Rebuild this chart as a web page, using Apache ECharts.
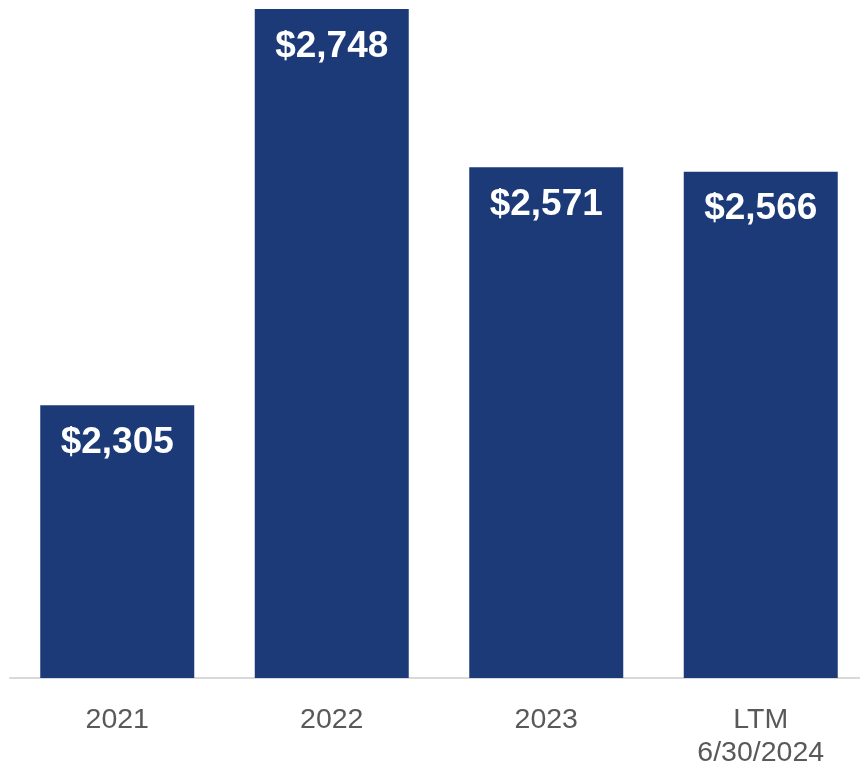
<!DOCTYPE html>
<html>
<head>
<meta charset="utf-8">
<script src="https://cdn.jsdelivr.net/npm/echarts@6/dist/echarts.min.js"></script>
<style>
  html, body { margin: 0; padding: 0; background: #fff; overflow: hidden; }
  /* the plot runs slightly past the right edge of the page */
  #chart { width: 868px; height: 770px; }
</style>
</head>
<body>
<div id="chart"></div>
<script>
const categories = ['2021', '2022', '2023', 'LTM\n6/30/2024'];
const values = [2305, 2748, 2571, 2566];

const chart = echarts.init(document.getElementById('chart'));
chart.setOption({
  animation: false,
  grid: { left: 10, top: 9, right: 0, bottom: 91, containLabel: false },
  xAxis: {
    type: 'category',
    data: categories,
    axisLine: { show: true, lineStyle: { color: '#d9d9d9', width: 2 } },
    axisTick: { show: false },
    axisLabel: {
      color: '#595959',
      fontFamily: 'Liberation Sans, Arial, sans-serif',
      fontSize: 28.5,
      lineHeight: 33,
      margin: 26
    }
  },
  yAxis: {
    type: 'value',
    min: 2000,
    max: 2748,
    show: false,
    splitLine: { show: false }
  },
  series: [{
    type: 'bar',
    data: values,
    barWidth: 154,
    itemStyle: { color: '#1c3a77' },
    label: {
      show: true,
      position: 'insideTop',
      distance: 19,
      color: '#ffffff',
      fontFamily: 'Liberation Sans, Arial, sans-serif',
      fontWeight: 'bold',
      fontSize: 37,
      formatter: p => '$' + p.value.toLocaleString('en-US')
    }
  }]
});
</script>
</body>
</html>
